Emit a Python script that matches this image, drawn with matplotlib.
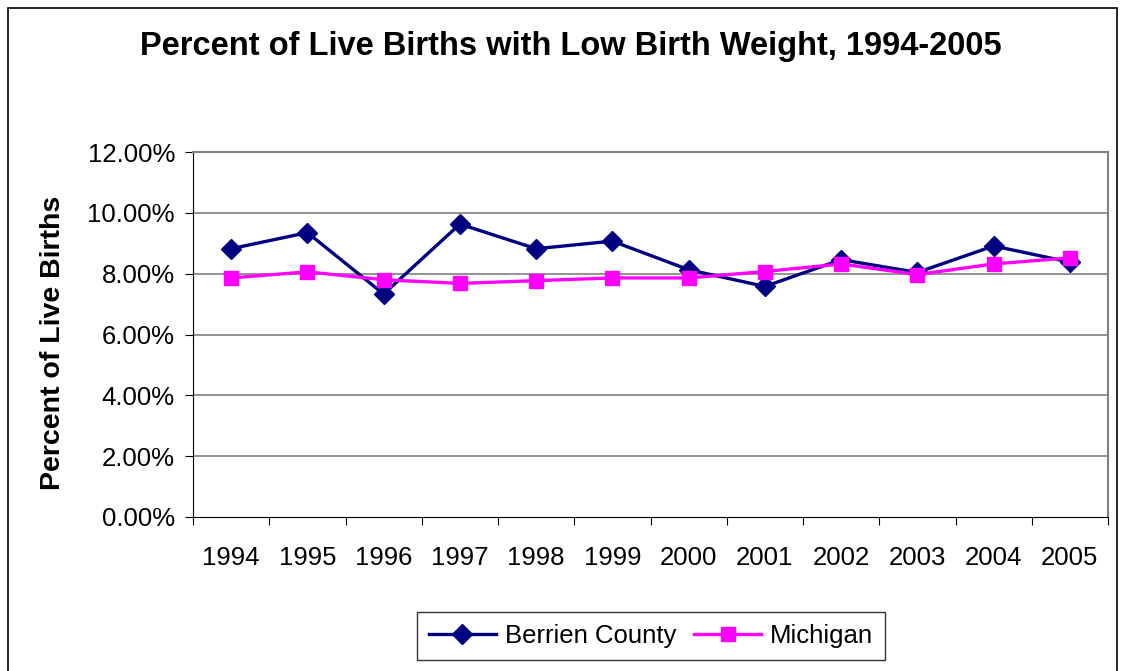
import matplotlib
matplotlib.use("Agg")
import matplotlib.pyplot as plt
from matplotlib.patches import Rectangle
from matplotlib.ticker import FixedLocator, PercentFormatter

plt.rcParams['font.family'] = ['Liberation Sans', 'DejaVu Sans']

years = ["1994", "1995", "1996", "1997", "1998", "1999", "2000", "2001", "2002", "2003", "2004", "2005"]
berrien = [8.82, 9.35, 7.33, 9.63, 8.82, 9.07, 8.13, 7.58, 8.46, 8.04, 8.91, 8.38]
michigan = [7.86, 8.06, 7.80, 7.68, 7.77, 7.86, 7.86, 8.07, 8.32, 7.97, 8.32, 8.52]
yticks = [0, 2, 4, 6, 8, 10, 12]

W, H = 1123, 671
fig = plt.figure(figsize=(W / 100, H / 100), dpi=100)
fig.patches.append(Rectangle((8 / W, -0.01), (1117 - 8) / W, 1 - 8 / H + 0.01,
                             transform=fig.transFigure, fill=False, edgecolor='black', linewidth=1.2))

ax = fig.add_axes([193 / W, 1 - 517 / H, (1108 - 193) / W, (517 - 152) / H])
x = [i + 0.5 for i in range(len(years))]
ax.plot(x, berrien, color='#000080', linewidth=2.4, marker='D', markersize=10,
        label='Berrien County', zorder=3)
ax.plot(x, michigan, color='#FF00FF', linewidth=2.4, marker='s', markersize=10.5,
        label='Michigan', zorder=4)

ax.set_xlim(0, len(years))
ax.set_ylim(0, 12)
ax.set_yticks(yticks)
ax.yaxis.set_major_formatter(PercentFormatter(decimals=2))
ax.xaxis.set_major_locator(FixedLocator(range(len(years) + 1)))
ax.set_xticklabels([])
ax.xaxis.set_minor_locator(FixedLocator(x))
ax.set_xticklabels(years, minor=True)
ax.tick_params(axis='x', which='minor', length=0, labelsize=18.5, pad=21)
ax.tick_params(axis='x', which='major', length=6, direction='out', color='black')
ax.tick_params(axis='y', length=6, direction='out', labelsize=18.5, pad=7)

for yv in yticks[1:]:
    ax.axhline(yv, color='#808080', linewidth=1.2, zorder=1)
for s in ['top', 'right']:
    ax.spines[s].set_color('#808080')
    ax.spines[s].set_linewidth(1.5)
ax.spines['left'].set_color('black')
ax.spines['bottom'].set_color('black')

ax.set_ylabel('Percent of Live Births', fontsize=20.5, fontweight='bold')
ax.yaxis.set_label_coords((66 - 193) / (1108 - 193), (517 - 343) / (517 - 152))
fig.text(571 / W, 1 - 47 / H, 'Percent of Live Births with Low Birth Weight, 1994-2005',
         ha='center', va='center', fontsize=23.5, fontweight='bold')

leg = fig.legend(loc='center', bbox_to_anchor=(651 / W, 1 - 636 / H), ncol=2, fontsize=18.5,
                 frameon=True, fancybox=False, edgecolor='black', handlelength=2.6,
                 columnspacing=0.7, handletextpad=0.35, borderpad=0.45, borderaxespad=0)
leg.get_frame().set_linewidth(1.0)

fig.savefig('out.png', dpi=100)
